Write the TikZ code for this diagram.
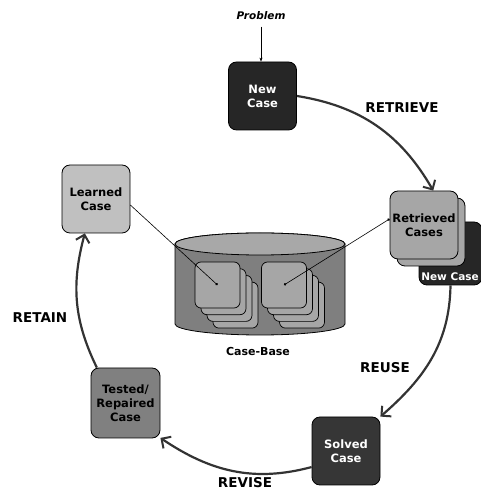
\documentclass[tikz,border=0pt]{standalone}
\usepackage{fontspec}
\setmainfont{DejaVu Sans}
\usetikzlibrary{arrows.meta}
\definecolor{darkbox}{HTML}{262626}
\definecolor{solvedcol}{HTML}{363636}
\definecolor{retcol}{HTML}{A6A6A6}
\definecolor{testcol}{HTML}{808080}
\definecolor{learncol}{HTML}{C0C0C0}
\definecolor{cylbody}{HTML}{7F7F7F}
\definecolor{cyltop}{HTML}{A8A8A8}
\definecolor{arrowcol}{HTML}{333333}
\begin{document}
\begin{tikzpicture}[x=1pt,y=1pt,
  box/.style={draw=black, line width=0.8pt, rounded corners=8pt, minimum width=68pt, minimum height=68pt, inner sep=0pt, align=center, font=\fontsize{11.5}{14}\selectfont\bfseries},
  smallbox/.style={draw=black, line width=0.7pt, rounded corners=6pt, minimum width=45pt, minimum height=46pt, inner sep=0pt, fill=retcol},
  cyclearrow/.style={draw=arrowcol, line width=2.2pt, -{Straight Barb[length=7pt, width=14pt, line width=2pt]}},
  lbl/.style={font=\fontsize{13.5}{15}\selectfont\bfseries},
  thinline/.style={draw=black, line width=0.6pt}]
\useasboundingbox (0,0) rectangle (481,492);

% cylinder (case base)
\draw[line width=0.8pt, fill=cylbody] (175,248) -- (175,168) arc[start angle=180, end angle=360, x radius=85, y radius=11] -- (345,248) arc[start angle=0, end angle=180, x radius=85, y radius=11] -- cycle;
\draw[line width=0.8pt, fill=cyltop] (260,248) ellipse[x radius=85, y radius=11];
\node[font=\fontsize{11}{13}\selectfont\bfseries] (cb) at (258,141) {Case-Base};

% stacks inside the case base
\foreach \k in {3,2,1} {
  \node[smallbox] (ls\k) at ({217.5+6*\k},{207-6.7*\k}) {};
}
\node[smallbox] (ls0) at (217.5,207) {};
\foreach \k in {3,2,1} {
  \node[smallbox] (rs\k) at ({284+6*\k},{207-6.7*\k}) {};
}
\node[smallbox] (rs0) at (284,207) {};

% main boxes
\node[box, fill=darkbox, text=white] (nc) at (262.5,396) {New\\Case};
\node[box, fill=darkbox, minimum width=63pt, minimum height=63pt] (nc2) at (450.5,238.5) {};
\node[text=white, font=\fontsize{10.5}{13}\selectfont\bfseries, inner sep=1pt] (nc2t) at (450,215) {New Case};
\node[box, fill=retcol] (retb) at (431,260) {};
\node[box, fill=retcol] (ret) at (424,267) {Retrieved\\Cases};
\node[box, fill=solvedcol, text=white] (sol) at (346,41) {Solved\\Case};
\node[box, fill=testcol, minimum width=69pt, minimum height=70pt] (tst) at (125.5,89) {Tested/\\Repaired\\Case};
\node[box, fill=learncol] (lrn) at (96,293) {Learned\\Case};

% problem
\node[font=\fontsize{10.5}{12}\selectfont\bfseries\itshape] (prob) at (261,476) {Problem};
\draw[thinline, -{Stealth[length=4pt, width=3pt]}, shorten <=3pt] (prob.south) -- (prob.south |- nc.north);

% thin connectors into the case base
\draw[thinline, -{Circle[length=2.5pt]}] (lrn.-10) -- (ls0.center);
\draw[thinline, {Circle[length=2.5pt]}-{Circle[length=2.5pt]}] (ret.170) -- (rs0.center);

% cycle arrows
\draw[cyclearrow] (nc.east) to[out=-9, in=120] (ret.75);
\draw[cyclearrow] (nc2.south) to[out=-91, in=41] (sol.45);
\draw[cyclearrow] (sol.-155) to[out=-165, in=-34] (tst.-45);
\draw[cyclearrow] (tst.129) to[out=116, in=-105] (lrn.-108);

% cycle labels
\node[lbl] (lretrieve) at (402,384) {RETRIEVE};
\node[lbl] (lreuse) at (385,124) {REUSE};
\node[lbl] (lrevise) at (245,9) {REVISE};
\node[lbl] (lretain) at (40,174) {RETAIN};
\end{tikzpicture}
\end{document}
